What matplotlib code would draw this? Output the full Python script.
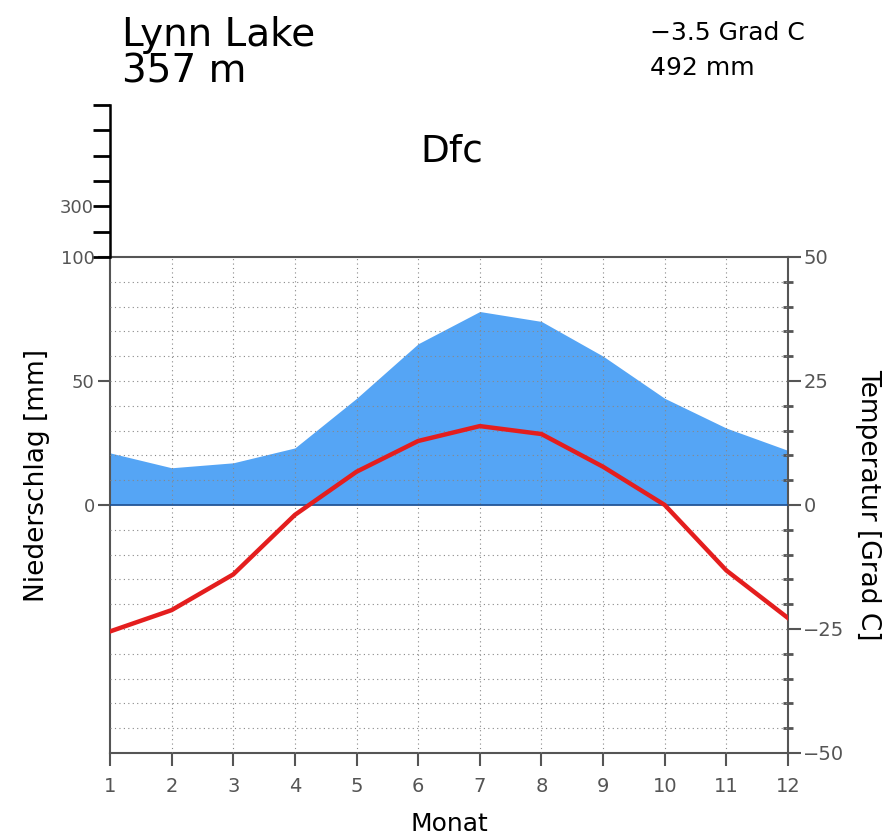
import matplotlib.pyplot as plt

months = [1, 2, 3, 4, 5, 6, 7, 8, 9, 10, 11, 12]
precip = [21, 15, 17, 23, 43, 65, 78, 74, 60, 43, 31, 22]
temp = [-25.5, -21.2, -14.0, -2.0, 6.7, 12.9, 15.9, 14.3, 7.7, 0.0, -13.2, -22.8]

grey = '#555555'
blue = '#55a5f5'
red = '#e41e1e'

fig = plt.figure(figsize=(8.89, 8.4), dpi=100)

# main plot, precipitation on the left, temperature on the right
ax = fig.add_axes([0.1237, 0.1036, 0.7627, 0.5905])
ax.fill_between(months, 0, precip, color=blue, lw=0, zorder=1)
ax.set_xlim(1, 12)
ax.set_ylim(-100, 100)
ax.set_yticks([0, 50, 100])
ax.set_xticks(months)
ax.tick_params(axis='y', direction='out', length=9, width=1.5, color=grey,
               labelsize=13, labelcolor=grey, pad=2)
ax.tick_params(axis='x', direction='out', length=9, width=1.5, color=grey,
               labelsize=14, labelcolor=grey, pad=8)
for s in ax.spines.values():
    s.set_color(grey)
    s.set_linewidth(1.5)
ax.set_xlabel('Monat', fontsize=18, labelpad=12)
ax.set_ylabel('Niederschlag [mm]', fontsize=19)
ax.yaxis.set_label_coords(-0.088, 0.56)

axt = ax.twinx()
axt.set_ylim(-50, 50)
axt.set_yticks([-50, -25, 0, 25, 50])
axt.set_yticks(range(-45, 50, 5), minor=True)
axt.tick_params(axis='y', which='major', direction='out', length=9, width=1.5,
                color=grey, labelsize=14, labelcolor=grey, pad=2)
axt.tick_params(axis='y', which='minor', direction='inout', length=7, width=2,
                color=grey)
for s in axt.spines.values():
    s.set_visible(False)
axt.set_ylabel('Temperatur [Grad C]', fontsize=19, rotation=-90)
axt.yaxis.set_label_coords(1.137, 0.5)

# dotted grid on top of the fill
for m in months[1:-1]:
    axt.axvline(m, color='#888888', lw=0.8, ls=(0, (1, 3)), zorder=2)
for t in range(-45, 50, 5):
    if t != 0:
        axt.axhline(t, color='#888888', lw=0.8, ls=(0, (1, 3)), zorder=2)
axt.axhline(0, color='#1f4f8f', lw=1.2, zorder=3)
axt.plot(months, temp, color=red, lw=3.2, zorder=4)

# upper compressed precipitation scale
axu = fig.add_axes([0.1237, 0.694, 0.7627, 0.181])
axu.set_ylim(100, 700)
axu.set_xlim(1, 12)
axu.set_yticks(range(100, 800, 100))
axu.set_yticklabels(['', '', '300', '', '', '', ''])
axu.set_xticks([])
axu.patch.set_visible(False)
for k in ['top', 'right', 'bottom']:
    axu.spines[k].set_visible(False)
axu.spines['left'].set_linewidth(1.8)
axu.tick_params(axis='y', direction='out', length=12, width=2,
                labelsize=13, labelcolor=grey, pad=0)

fig.text(0.137, 0.958, 'Lynn Lake', fontsize=28, va='center')
fig.text(0.137, 0.915, '357 m', fontsize=28, va='center')
fig.text(0.508, 0.82, 'Dfc', fontsize=27, va='center', ha='center')
fig.text(0.731, 0.961, '\u22123.5 Grad C', fontsize=18, va='center')
fig.text(0.731, 0.919, '492 mm', fontsize=18, va='center')

fig.savefig('out.png', dpi=100)
